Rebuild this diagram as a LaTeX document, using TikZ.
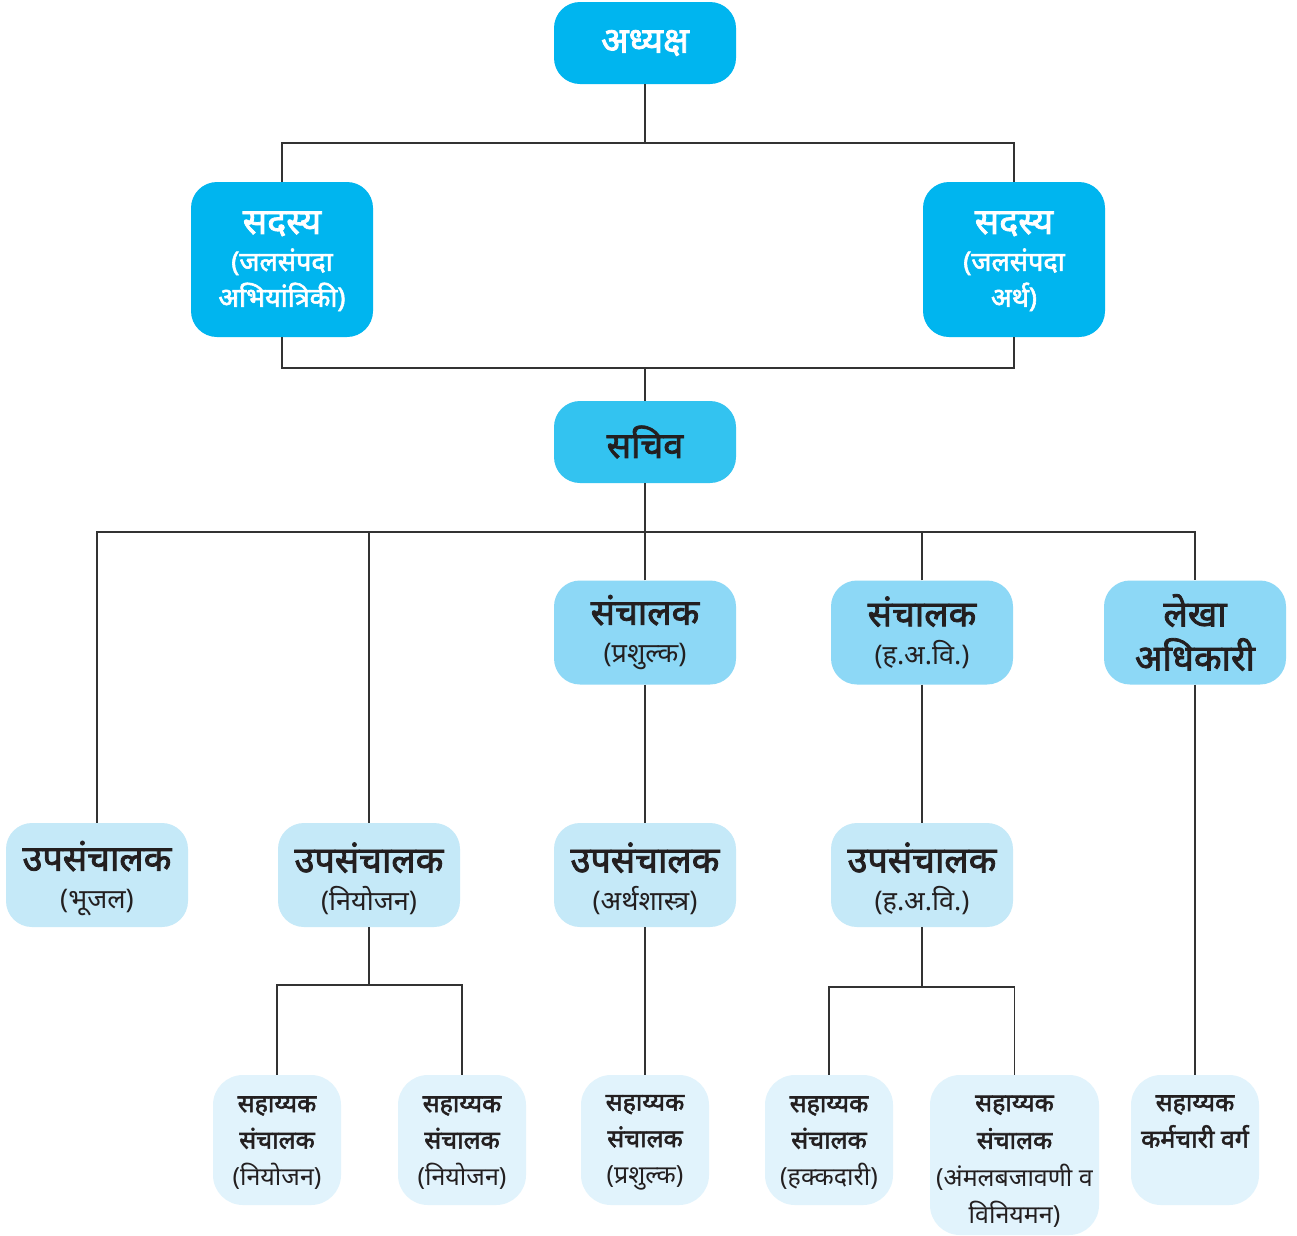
\documentclass[tikz,border=0pt]{standalone}
\usepackage{fontspec}
\setmainfont{Noto Sans}[Script=Devanagari]
\newfontfamily\dvbold{Noto Sans}[Script=Devanagari, FakeBold=2.2]
\definecolor{cA}{HTML}{00B5EF}
\definecolor{cB}{HTML}{33C3F0}
\definecolor{cC}{HTML}{8DD8F6}
\definecolor{cD}{HTML}{C5E9F8}
\definecolor{cE}{HTML}{E1F3FC}
\definecolor{ink}{HTML}{231F20}
\definecolor{ln}{HTML}{333333}
\newcommand{\myhd}[1]{{\dvbold\fontsize{36}{40}\selectfont #1}}
\newcommand{\mysubb}[1]{{\dvbold\fontsize{27}{36}\selectfont #1}}
\newcommand{\mysm}[1]{{\dvbold #1}}
\newcommand{\mystrut}[1]{\rule{0pt}{#1}}
\tikzset{
  box/.style={rectangle, rounded corners=26pt, align=center, inner sep=0pt, text=ink},
  big/.style={box, minimum width=182pt, minimum height=82pt, font=\fontsize{36}{40}\selectfont},
  mid/.style={box, minimum width=182pt, minimum height=104pt, font=\fontsize{27}{38}\selectfont},
  tall/.style={box, minimum width=182pt, minimum height=155pt, font=\fontsize{27}{36}\selectfont},
  low/.style={box, minimum width=128pt, minimum height=130pt, fill=cE, rounded corners=30pt, font=\fontsize{25}{36.5}\selectfont},
  conn/.style={draw=ln, line width=1.4pt}
}
\begin{document}
\begin{tikzpicture}[x=1pt,y=-1pt]
\fill[white] (0,0) rectangle (1297,1235);
\useasboundingbox (0,0) rectangle (1297,1235);
% level 0
\node[big, fill=cA, text=white] (adh) at (645,43) {\myhd{अध्यक्ष}};
\node[tall, fill=cA, text=white] (sadL) at (282,259.5) {\mystrut{26pt}\myhd{सदस्य}\\[1pt]\mysubb{(जलसंपदा}\\\mysubb{अभियांत्रिकी)}};
\node[tall, fill=cA, text=white] (sadR) at (1014,259.5) {\mystrut{26pt}\myhd{सदस्य}\\[1pt]\mysubb{(जलसंपदा}\\\mysubb{अर्थ)}};
\node[big, fill=cB] (sach) at (645,442) {\myhd{सचिव}};
% level 2
\node[mid, fill=cC] (san1) at (645,632.5) {\myhd{संचालक}\\(प्रशुल्क)};
\node[mid, fill=cC] (san2) at (922,632.5) {\myhd{संचालक}\\(ह.अ.वि.)};
\node[mid, fill=cC] (lekha) at (1195,632.5) {\myhd{लेखा}\\[6pt]\myhd{अधिकारी}};
% level 3
\node[mid, fill=cD] (up1) at (97,875) {\mystrut{37pt}\myhd{उपसंचालक}\\(भूजल)};
\node[mid, fill=cD] (up2) at (369,875) {\mystrut{37pt}\myhd{उपसंचालक}\\(नियोजन)};
\node[mid, fill=cD] (up3) at (645,875) {\mystrut{37pt}\myhd{उपसंचालक}\\(अर्थशास्त्र)};
\node[mid, fill=cD] (up4) at (922,875) {\mystrut{37pt}\myhd{उपसंचालक}\\(ह.अ.वि.)};
% level 4
\node[low] (s1) at (277,1140) {\mystrut{21pt}\mysm{सहाय्यक}\\\mysm{संचालक}\\(नियोजन)};
\node[low] (s2) at (462,1140) {\mystrut{21pt}\mysm{सहाय्यक}\\\mysm{संचालक}\\(नियोजन)};
\node[low] (s3) at (645,1140) {\mystrut{21pt}\mysm{सहाय्यक}\\\mysm{संचालक}\\(प्रशुल्क)};
\node[low] (s4) at (829,1140) {\mystrut{21pt}\mysm{सहाय्यक}\\\mysm{संचालक}\\(हक्कदारी)};
\node[low, minimum width=169pt, minimum height=160pt, font=\fontsize{25}{37.5}\selectfont] (s5) at (1014.5,1155) {\mystrut{29pt}\mysm{सहाय्यक}\\\mysm{संचालक}\\(अंमलबजावणी व\\विनियमन)};
\node[low, text depth=37pt] (s6) at (1195,1140) {\mysm{सहाय्यक}\\\mysm{कर्मचारी वर्ग}};
% junctions
\coordinate (j1) at (645,143);
\coordinate (j2) at (645,368);
\coordinate (j3) at (645,532);
\coordinate (j4) at (369,985);
\coordinate (j5) at (922,987);
% connectors
\draw[conn] (adh.south) -- (j1);
\draw[conn] (sadL.north) |- (j1) -| (sadR.north);
\draw[conn] (sadL.south) |- (j2) -| (sadR.south);
\draw[conn] (j2) -- (sach.north);
\draw[conn] (sach.south) -- (j3);
\draw[conn] (up1.north) |- (j3) -| (lekha.north);
\draw[conn] (up2.north) -- (up2.north |- j3);
\draw[conn] (san1.north) -- (san1.north |- j3);
\draw[conn] (san2.north) -- (san2.north |- j3);
\draw[conn] (san1.south) -- (up3.north);
\draw[conn] (san2.south) -- (up4.north);
\draw[conn] (lekha.south) -- (s6.north);
\draw[conn] (up2.south) -- (j4);
\draw[conn] (s1.north) |- (j4) -| (s2.north);
\draw[conn] (up3.south) -- (s3.north);
\draw[conn] (up4.south) -- (j5);
\draw[conn] (s4.north) |- (j5) -| (s5.north);
\end{tikzpicture}
\end{document}
